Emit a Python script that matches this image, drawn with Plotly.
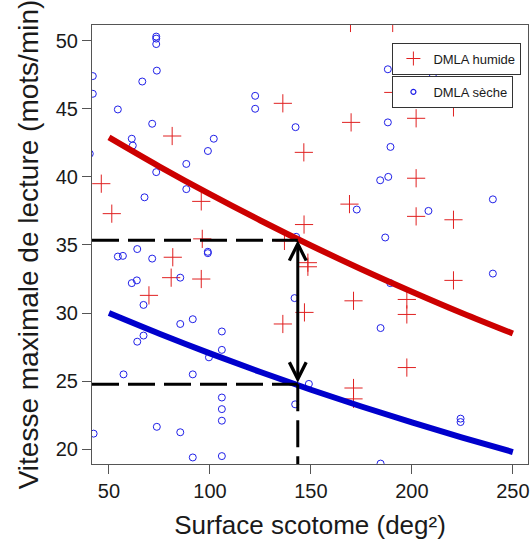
import plotly.graph_objects as go

# ---- data ----
humide_x = [46.2, 51.4, 69.8, 80.8, 81.6, 81.3, 95.7, 96.2, 95.7, 136.1, 136.9, 136.1,
            146.5, 146.6, 148.5, 148.5, 146.8, 169.6, 169.9, 169.1, 171.1, 171.1, 171.1,
            190.5, 190.8, 202.1, 202.1, 202.1, 197.5, 197.5, 197.5, 220.6, 220.6, 220.6]
humide_y = [39.5, 37.3, 31.3, 32.6, 34.1, 43.0, 38.2, 35.45, 32.5, 45.4, 35.3, 29.2,
            41.8, 36.5, 33.7, 33.4, 30.05, 51.3, 44.0, 38.0, 30.9, 24.5, 23.7,
            51.3, 46.2, 44.3, 39.9, 37.1, 31.0, 29.9, 26.0, 45.1, 36.85, 32.4]

seche_x = [42.0, 42.0, 40.5, 42.4, 54.4, 61.3, 61.8, 66.5, 71.4, 73.4, 73.4, 73.4, 73.7,
           73.4, 88.3, 99.0, 101.9, 122.4, 122.4, 142.4, 88.3, 67.6, 142.7, 64.0, 98.95,
           98.95, 54.4, 56.9, 71.4, 85.3, 61.3, 63.8, 67.1, 141.9, 85.3, 91.5, 105.9, 67.1,
           64.0, 105.9, 99.5, 57.2, 91.5, 105.9, 105.9, 105.9, 142.2, 73.7, 85.3, 91.5,
           105.9, 149.0, 184.3, 188.3, 188.1, 210.4, 188.1, 189.4, 172.7, 208.2, 240.1,
           186.8, 189.3, 240.1, 184.5, 224.1, 224.1, 184.5]
seche_y = [47.4, 46.1, 41.7, 21.15, 44.95, 42.8, 42.3, 47.0, 43.9, 50.3, 50.15, 49.75, 47.8,
           40.35, 40.95, 41.9, 42.8, 45.95, 45.0, 43.65, 39.1, 38.5, 35.6, 34.7, 34.5,
           34.4, 34.15, 34.2, 34.0, 32.6, 32.2, 32.4, 30.6, 31.1, 29.2, 29.55, 28.65, 28.35,
           27.9, 27.3, 26.75, 25.5, 25.5, 23.8, 22.95, 22.1, 23.3, 21.65, 21.25, 19.4,
           19.5, 24.8, 39.75, 40.0, 47.9, 47.5, 44.0, 42.2, 37.6, 37.5, 38.35,
           35.55, 32.2, 32.9, 28.9, 22.25, 22.0, 18.95]

fit_x = [50, 75, 100, 125, 150, 175, 200, 225, 250]
fit_humide = [42.9, 40.76, 38.73, 36.80, 34.96, 33.22, 31.57, 29.99, 28.50]
fit_seche = [30.0, 28.48, 27.04, 25.67, 24.37, 23.14, 21.97, 20.86, 19.80]

scotome_ref = 143.5
vitesse_humide_ref = 35.35
vitesse_seche_ref = 24.78

x_ticks = [50, 100, 150, 200, 250]
y_ticks = [20, 25, 30, 35, 40, 45, 50]
x_range = [41.6, 257.5]
y_range = [18.92, 51.15]

FONT = "Liberation Sans, Arial, sans-serif"
RED = "#e02020"
BLUE = "#2020e8"

fig = go.Figure()

fig.add_trace(go.Scatter(
    x=humide_x, y=humide_y, mode="markers", name="DMLA humide", showlegend=False,
    marker=dict(symbol="cross-thin-open", size=13, color=RED, line=dict(width=1, color=RED))))
fig.add_trace(go.Scatter(
    x=seche_x, y=seche_y, mode="markers", name="DMLA sèche", showlegend=False,
    marker=dict(symbol="circle-open", size=7, color=BLUE, line=dict(width=1, color=BLUE))))

# legend entries (smaller symbols, as in the reference legend)
fig.add_trace(go.Scatter(
    x=[None], y=[None], mode="markers", name="DMLA humide", legend="legend",
    marker=dict(symbol="cross-thin-open", size=10, color=RED, line=dict(width=1, color=RED))))
fig.add_trace(go.Scatter(
    x=[None], y=[None], mode="markers", name="DMLA sèche", legend="legend2",
    marker=dict(symbol="circle-open", size=5, color=BLUE, line=dict(width=1.2, color=BLUE))))

fig.add_trace(go.Scatter(x=fit_x, y=fit_humide, mode="lines", line_shape="spline",
                         line=dict(color="#cc0000", width=6), showlegend=False))
fig.add_trace(go.Scatter(x=fit_x, y=fit_seche, mode="lines", line_shape="spline",
                         line=dict(color="#0000cc", width=6), showlegend=False))

dash = dict(color="black", width=3, dash="27px,9px")
fig.add_trace(go.Scatter(x=[x_range[0], scotome_ref], y=[vitesse_humide_ref] * 2,
                         mode="lines", line=dash, showlegend=False))
fig.add_trace(go.Scatter(x=[x_range[0], scotome_ref], y=[vitesse_seche_ref] * 2,
                         mode="lines", line=dash, showlegend=False))
fig.add_trace(go.Scatter(x=[scotome_ref] * 2, y=[vitesse_seche_ref, y_range[0]],
                         mode="lines", line=dash, showlegend=False))

fig.add_annotation(x=scotome_ref, y=vitesse_humide_ref, ax=scotome_ref, ay=vitesse_seche_ref,
                   xref="x", yref="y", axref="x", ayref="y", text="", showarrow=True,
                   arrowhead=5, startarrowhead=5, arrowside="end+start",
                   arrowwidth=3, arrowsize=1.1, startarrowsize=1.1,
                   arrowcolor="black", standoff=0, startstandoff=0)

axis_common = dict(showline=True, linecolor="#555555", linewidth=1, mirror=True,
                   ticks="outside", ticklen=9, tickcolor="#555555", tickwidth=1,
                   showgrid=False, zeroline=False, automargin=False,
                   tickfont=dict(family=FONT, size=20, color="#1a1a1a"))

fig.update_xaxes(range=x_range, tickvals=x_ticks, **axis_common,
                 title=dict(text="Surface scotome (deg²)", standoff=16,
                            font=dict(family=FONT, size=26, color="#1a1a1a")))
fig.update_yaxes(range=y_range, tickvals=y_ticks, **axis_common,
                 title=dict(text="Vitesse maximale de lecture (mots/min)", standoff=8,
                            font=dict(family=FONT, size=28, color="#1a1a1a")))

leg = dict(bgcolor="white", bordercolor="#333333", borderwidth=1,
           font=dict(family=FONT, size=13, color="#1a1a1a"),
           xanchor="left", yanchor="top", itemwidth=30)
fig.update_layout(
    width=530, height=540,
    margin=dict(l=92, r=2, t=25, b=76),
    plot_bgcolor="white", paper_bgcolor="white",
    legend=dict(x=0.689, y=0.96, **leg),
    legend2=dict(x=0.689, y=0.884, **leg),
)

fig.write_html("out.html", config={"displayModeBar": False},
               post_script="document.body.style.margin='0px';document.body.style.overflow='hidden';")
